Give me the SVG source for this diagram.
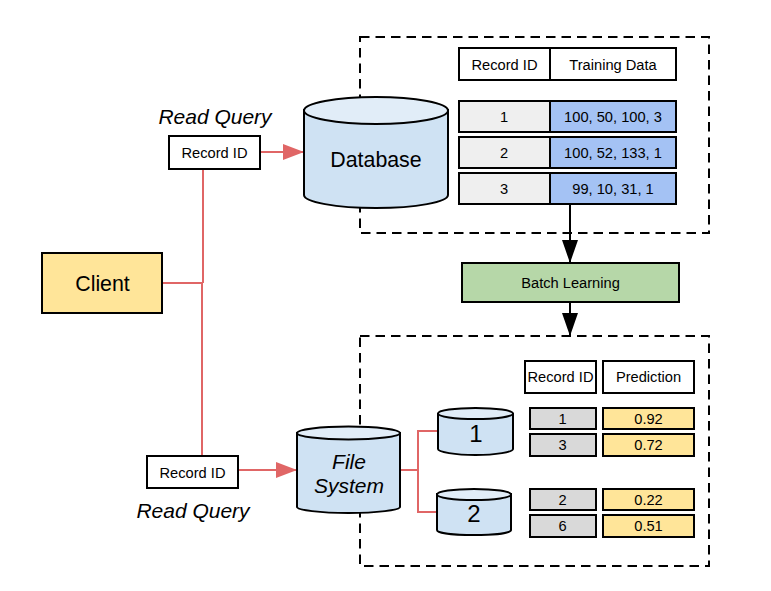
<svg xmlns="http://www.w3.org/2000/svg" width="771" height="591" viewBox="0 0 771 591">
<style>
text{font-family:"Liberation Sans",Arial,sans-serif;text-anchor:middle;fill:#000}
.s{font-size:14.67px}.m{font-size:21.33px}.n{font-size:24px}.i{font-style:italic;font-size:21px}
.b{stroke:#000;stroke-width:2}
.w{fill:#fff}.y{fill:#ffe599}.l{fill:#efefef}.g{fill:#d9d9d9}.a{fill:#a4c2f4}.c{fill:#cfe2f3}.t{fill:#e1edf8}
.d{fill:none;stroke:#000;stroke-width:2;stroke-dasharray:9.500 6}
.r{fill:none;stroke:#e06666;stroke-width:2}
.k{fill:none;stroke:#000;stroke-width:2}
</style>
<defs>
<marker id="ra" markerUnits="userSpaceOnUse" markerWidth="22" markerHeight="18" refX="21" refY="9" orient="auto"><path d="M0 1L21 9L0 17Z" fill="#e06666"/></marker>
<marker id="ka" markerUnits="userSpaceOnUse" markerWidth="24" markerHeight="18" refX="23" refY="9" orient="auto"><path d="M0 1L23 9L0 17Z" fill="#000"/></marker>
</defs>
<g id="zone-top"><rect class="d" x="360" y="37" width="349" height="196"/></g>
<g id="zone-bottom"><rect class="d" x="360" y="336" width="349" height="230"/></g>
<g id="connectors">
<path class="r" d="M203 169V283M162 283H203M202 283V456"/>
<path class="r" d="M260 152H304" marker-end="url(#ra)"/>
<path class="r" d="M238 470H297" marker-end="url(#ra)"/>
<path class="r" d="M400 470H418M438 431H418V512H438"/>
<path class="k" d="M570 204V263" marker-end="url(#ka)"/>
<path class="k" d="M570 302V336" marker-end="url(#ka)"/>
</g>
<g id="client"><rect class="b y" x="42" y="253" width="120" height="60"/><text class="m" x="102.500" y="291">Client</text></g>
<g id="query-top"><text class="i" x="215" y="124">Read Query</text><rect class="b w" x="169" y="136" width="91" height="33"/><text class="s" x="214.500" y="158">Record ID</text></g>
<g id="query-bottom"><rect class="b w" x="147" y="456" width="91" height="32"/><text class="s" x="192.500" y="478">Record ID</text><text class="i" x="193" y="518">Read Query</text></g>
<g id="database"><path class="b c" d="M304 110V195C304 202 336 208 376 208S448 202 448 195V110Z"/><ellipse class="b t" cx="376" cy="110.500" rx="72" ry="13.500"/><text class="m" x="376" y="167">Database</text></g>
<g id="train-header"><rect class="b w" x="459" y="48" width="91" height="32"/><rect class="b w" x="550" y="48" width="126" height="32"/><text class="s" x="504.500" y="70">Record ID</text><text class="s" x="613" y="70">Training Data</text></g>
<g id="train-1"><rect class="b l" x="459" y="101" width="91" height="31"/><rect class="b a" x="550" y="101" width="126" height="31"/><text class="s" x="504" y="122">1</text><text class="s" x="613" y="122">100, 50, 100, 3</text></g>
<g id="train-2"><rect class="b l" x="459" y="137" width="91" height="31"/><rect class="b a" x="550" y="137" width="126" height="31"/><text class="s" x="504" y="158">2</text><text class="s" x="613" y="158">100, 52, 133, 1</text></g>
<g id="train-3"><rect class="b l" x="459" y="173" width="91" height="31"/><rect class="b a" x="550" y="173" width="126" height="31"/><text class="s" x="504" y="194">3</text><text class="s" x="613" y="194">99, 10, 31, 1</text></g>
<g id="batch"><rect class="b" fill="#b6d7a8" x="462" y="263" width="217" height="39"/><text class="s" x="570.500" y="288">Batch Learning</text></g>
<g id="filesystem"><path class="b c" d="M297 433V507C297 510 320 513 348.500 513S400 510 400 507V433Z"/><ellipse class="b t" cx="348.500" cy="433" rx="51.500" ry="6.500"/><text class="i" x="349" y="469">File</text><text class="i" x="349" y="493">System</text></g>
<g id="shard-1"><path class="b c" d="M438 414V449C438 452 455 455 475.500 455S513 452 513 449V414Z"/><ellipse class="b t" cx="475.500" cy="413.500" rx="37.500" ry="5.500"/><text class="n" x="476" y="442">1</text></g>
<g id="shard-2"><path class="b c" d="M437 494V530C437 533 454 535 474 535S511 533 511 530V494Z"/><ellipse class="b t" cx="474" cy="494.500" rx="37" ry="5.500"/><text class="n" x="474" y="522">2</text></g>
<g id="pred-header"><rect class="b w" x="525" y="361" width="71" height="32"/><rect class="b w" x="603" y="361" width="91" height="32"/><text class="s" x="560.500" y="382">Record ID</text><text class="s" x="648.500" y="382">Prediction</text></g>
<g id="pred-1"><rect class="b g" x="530" y="408" width="66" height="21"/><rect class="b y" x="603" y="408" width="91" height="21"/><text class="s" x="562.500" y="424">1</text><text class="s" x="648.500" y="424">0.92</text></g>
<g id="pred-3"><rect class="b g" x="530" y="434" width="66" height="22"/><rect class="b y" x="603" y="434" width="91" height="22"/><text class="s" x="562.500" y="450">3</text><text class="s" x="648.500" y="450">0.72</text></g>
<g id="pred-2"><rect class="b g" x="530" y="489" width="66" height="21"/><rect class="b y" x="603" y="489" width="91" height="21"/><text class="s" x="562.500" y="505">2</text><text class="s" x="648.500" y="505">0.22</text></g>
<g id="pred-6"><rect class="b g" x="530" y="515" width="66" height="22"/><rect class="b y" x="603" y="515" width="91" height="22"/><text class="s" x="562.500" y="531">6</text><text class="s" x="648.500" y="531">0.51</text></g>
</svg>
